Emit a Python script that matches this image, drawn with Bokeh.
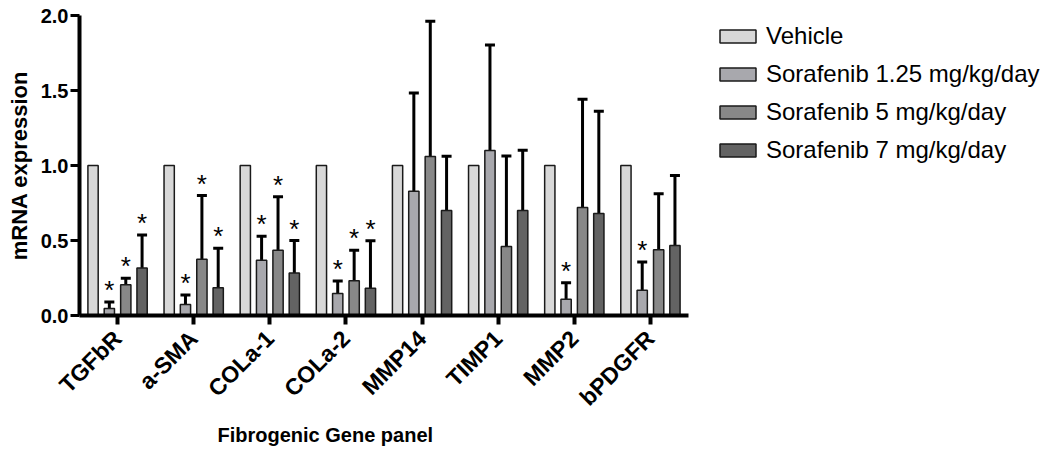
import math
from bokeh.plotting import figure
from bokeh.models import (ColumnDataSource, FactorRange, Whisker, TeeHead, Legend, LegendItem,
                          FixedTicker, NumeralTickFormatter, Range1d, Title)
from bokeh.transform import dodge
from bokeh.core.properties import value
from bokeh.embed import file_html
from bokeh.resources import INLINE

genes = ["TGFbR", "a-SMA", "COLa-1", "COLa-2", "MMP14", "TIMP1", "MMP2", "bPDGFR"]
series_names = ["Vehicle", "Sorafenib 1.25 mg/kg/day", "Sorafenib 5 mg/kg/day", "Sorafenib 7 mg/kg/day"]

vehicle = [1.0, 1.0, 1.0, 1.0, 1.0, 1.0, 1.0, 1.0]
s125 = [0.047, 0.074, 0.368, 0.147, 0.829, 1.10, 0.109, 0.169]
s125_sd = [0.043, 0.062, 0.161, 0.083, 0.655, 0.704, 0.109, 0.187]
s5 = [0.205, 0.375, 0.435, 0.232, 1.06, 0.46, 0.72, 0.438]
s5_sd = [0.043, 0.425, 0.357, 0.203, 0.902, 0.604, 0.722, 0.373]
s7 = [0.317, 0.185, 0.283, 0.181, 0.70, 0.70, 0.68, 0.467]
s7_sd = [0.219, 0.264, 0.217, 0.317, 0.362, 0.402, 0.682, 0.466]

sig125 = [True, True, True, True, False, False, True, True]
sig5 = [True, True, True, True, False, False, False, False]
sig7 = [True, True, True, True, False, False, False, False]

y_ticks = [0.0, 0.5, 1.0, 1.5, 2.0]

colors = ["#d8d8d8", "#a8a8ad", "#888888", "#636363"]
offsets = [-0.322, -0.108, 0.108, 0.322]
bar_w = 0.135

FONT = "Liberation Sans"

p = figure(frame_width=609, frame_height=300, output_backend="svg", toolbar_location=None,
           x_range=FactorRange(factors=genes, range_padding=0),
           y_range=Range1d(0, 2.0),
           min_border_left=79, min_border_right=10, min_border_top=15, min_border_bottom=110)
p.outline_line_color = None
p.xgrid.visible = False
p.ygrid.visible = False
p.background_fill_color = "white"

for ax in (p.xaxis[0], p.yaxis[0]):
    ax.axis_line_width = 4
    ax.axis_line_color = "black"
    ax.major_tick_line_width = 4
    ax.major_tick_line_color = "black"
    ax.major_tick_in = 0
    ax.major_tick_out = 9
    ax.minor_tick_line_color = None
    ax.major_label_text_font = FONT
    ax.major_label_text_font_style = "bold"
    ax.major_label_text_font_size = "20px"
    ax.major_label_text_color = "black"

p.yaxis.ticker = FixedTicker(ticks=y_ticks)
p.yaxis.formatter = NumeralTickFormatter(format="0.0")
p.yaxis.major_tick_line_width = 3
p.yaxis.major_label_standoff = 2
p.yaxis.axis_label = "mRNA expression"
p.yaxis.axis_label_text_font = FONT
p.yaxis.axis_label_text_font_style = "bold"
p.yaxis.axis_label_text_font_size = "22px"
p.yaxis.axis_label_text_color = "black"
p.yaxis.axis_label_standoff = 6

p.xaxis.major_label_orientation = math.pi / 4
p.xaxis.major_label_standoff = 10
p.xaxis.major_label_text_font_size = "23px"

xt = Title(text="Fibrogenic Gene panel", align="left", offset=138,
           text_font=FONT, text_font_style="bold", text_font_size="20px",
           text_color="black", standoff=2, vertical_align="top")
p.add_layout(xt, "below")

vals = [vehicle, s125, s5, s7]
sds = [None, s125_sd, s5_sd, s7_sd]
sigs = [None, sig125, sig5, sig7]

items = []
for i in range(4):
    upper = None
    if sds[i] is not None:
        upper = [m + s for m, s in zip(vals[i], sds[i])]
    data = dict(gene=genes, mean=vals[i])
    if upper is not None:
        data["upper"] = upper
    src = ColumnDataSource(data)
    if upper is not None:
        w = Whisker(source=src, base=dodge("gene", offsets[i], range=p.x_range),
                    lower="mean", upper="upper", line_width=3, line_color="black",
                    upper_head=TeeHead(size=10, line_width=3, line_color="black"),
                    lower_head=None, level="underlay")
        p.add_layout(w)
    r = p.vbar(x=dodge("gene", offsets[i], range=p.x_range), top="mean", bottom=0,
               width=bar_w, source=src, fill_color=colors[i],
               line_color="#1a1a1a", line_width=1.5)
    items.append(LegendItem(label=series_names[i], renderers=[r]))
    if sigs[i] is not None:
        sg = [g for g, s in zip(genes, sigs[i]) if s]
        su = [u for u, s in zip(upper, sigs[i]) if s]
        ssrc = ColumnDataSource(dict(gene=sg, upper=su))
        p.text(x=dodge("gene", offsets[i], range=p.x_range), y="upper", text=value("*"),
               source=ssrc, text_font=value(FONT), text_font_size="26px",
               text_align="center", text_baseline="alphabetic", y_offset=-12,
               text_color="black")

legend = Legend(items=items, location=(27, 151), orientation="vertical",
                padding=0, margin=0, spacing=10,
                glyph_width=45, glyph_height=16, label_height=16,
                label_standoff=6,
                label_text_font=FONT, label_text_font_size="24px",
                label_text_color="black",
                border_line_alpha=0, background_fill_alpha=0)
p.add_layout(legend, "right")

open("out.html", "w").write(file_html(p, INLINE))
